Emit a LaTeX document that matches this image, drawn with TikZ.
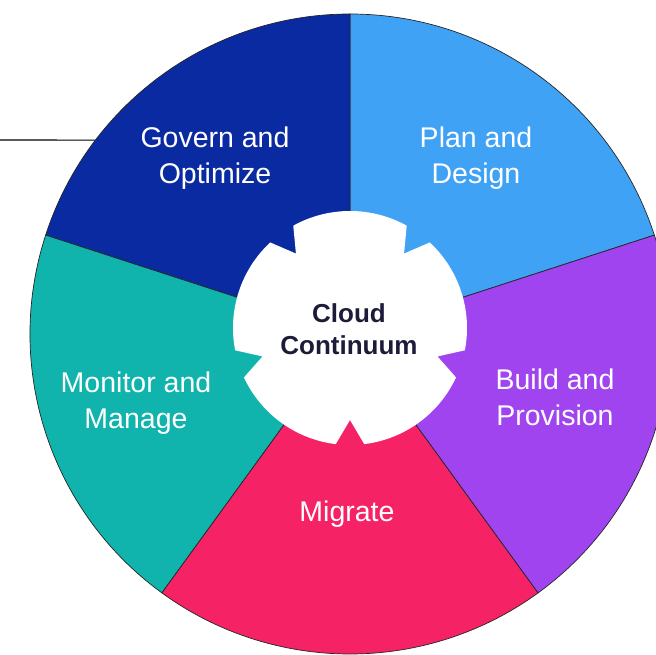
\documentclass[tikz,border=0pt]{standalone}
\usepackage{fontspec}
\setmainfont{Liberation Sans}
\definecolor{governblue}{RGB}{10,42,162}
\definecolor{planblue}{RGB}{64,162,245}
\definecolor{buildpurple}{RGB}{160,68,240}
\definecolor{migratepink}{RGB}{245,34,102}
\definecolor{monitorteal}{RGB}{16,180,172}
\definecolor{hubtext}{RGB}{28,28,58}
\begin{document}
\begin{tikzpicture}[x=1pt,y=1pt,
  seg/.style={draw=black!85,line width=0.7pt},
  lab/.style={text=white,align=center,font=\fontsize{28.5}{36}\selectfont}]
\useasboundingbox (-350,-321) rectangle (306,334);
\clip (-350,-321) rectangle (306,334);

% leader line on the left
\coordinate (lead) at (-350,194);
\coordinate (rim) at (142.7:320pt);
\draw[line width=1.1pt,black] (lead) -- (rim);

% five segments
\foreach \a/\col in {18/planblue,90/governblue,162/monitorteal,234/migratepink,306/buildpurple}
  \filldraw[seg,fill=\col] (0,0) -- (\a:320pt) arc[start angle=\a,delta angle=72,radius=320pt] -- cycle;

% notched hub
\fill[white,shift={(0,6)}] (277:117pt)
  \foreach \a in {270,342,54,126,198} {
    arc[start angle=\a+7,end angle=\a+65,radius=117pt] -- (\a+72:92pt) -- (\a+79:117pt)
  } -- cycle;

\node[lab] (govern) at (-135,176) {Govern and\\Optimize};
\node[lab] (plan) at (126,176) {Plan and\\Design};
\node[lab] (build) at (205,-63) {Build and\\Provision};
\node[lab] (migrate) at (-3,-180) {Migrate};
\node[lab] (monitor) at (-214,-69) {Monitor and\\Manage};

\node[text=hubtext,align=center,font=\bfseries\fontsize{26}{32}\selectfont] (hub) at (-1,5) {Cloud\\Continuum};
\end{tikzpicture}
\end{document}
